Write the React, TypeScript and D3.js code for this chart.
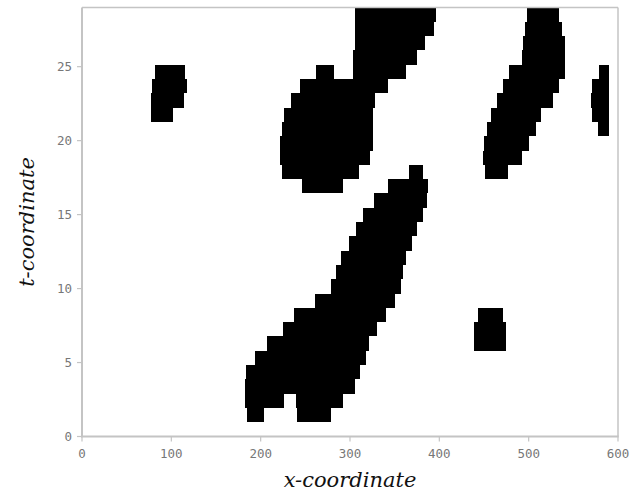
import React from "react";
import * as d3 from "d3";

// Domain of the image
const X_DOMAIN: [number, number] = [0, 600];
const T_DOMAIN: [number, number] = [0, 29];
const N_ROWS = 30; // rows of the t-grid, row 0 at the bottom

const X_TICKS = [0, 100, 200, 300, 400, 500, 600];
const T_TICKS = [0, 5, 10, 15, 20, 25];

// Black intervals [x0, x1] per row (row index 0 = bottom row)
const ROWS: number[][][] = [
  [],
  [[185, 203.4], [241, 278.4]],
  [[182.1, 226.5], [239.9, 292.5]],
  [[182.1, 305.6]],
  [[183.6, 311.2]],
  [[193.3, 317.6]],
  [[206.7, 321.6], [439.1, 474.6]],
  [[224.7, 329.9], [439.1, 474.6]],
  [[237.6, 340.3], [443.6, 470.9]],
  [[261.2, 350.4]],
  [[278.7, 356.8]],
  [[284.0, 359.7]],
  [[289.9, 362.7]],
  [[298.9, 369.1]],
  [[306.4, 375.3]],
  [[314.9, 382.1]],
  [[326.9, 386.5]],
  [[245.9, 292.5], [342.9, 387.6]],
  [[223.5, 310.4], [366.4, 382.1], [451.1, 477.2]],
  [[221.6, 322.4], [449.2, 492.2]],
  [[221.6, 325.4], [450.3, 500.7]],
  [[223.5, 325.4], [453.0, 508.2], [577.3, 590.3]],
  [[76.9, 101.5], [226.1, 325.4], [457.8, 513.5], [570.5, 590.3]],
  [[76.9, 114.2], [233.6, 328.3], [464.9, 527.6], [569.4, 590.3]],
  [[78.0, 117.2], [244.0, 342.2], [470.9, 534.3], [571.2, 590.3]],
  [[81.7, 115.3], [261.6, 282.4], [303.0, 362.7], [478.0, 540.7], [578.7, 590.3]],
  [[303.0, 375.3], [492.2, 540.7]],
  [[305.6, 384.0], [494.0, 540.7]],
  [[305.6, 394.4], [495.9, 537.0]],
  [[305.6, 396.3], [497.8, 534.0]],
];

const X_LABEL = "x-coordinate";
const T_LABEL = "t-coordinate";

export default function App() {
  const W = 633;
  const H = 495;
  const left = 82;
  const right = 618;
  const top = 7.5;
  const bottom = 436.5;

  const x = d3.scaleLinear().domain(X_DOMAIN).range([left, right]);
  const y = d3.scaleLinear().domain(T_DOMAIN).range([bottom, top]);
  const dt = (T_DOMAIN[1] - T_DOMAIN[0]) / N_ROWS;

  const axisColor = "#c4c4c4";
  const tickText = "#777777";

  const cells: React.ReactNode[] = [];
  ROWS.forEach((row, j) => {
    const t0 = T_DOMAIN[0] + j * dt;
    const t1 = t0 + dt;
    row.forEach(([a, b], i) => {
      cells.push(
        <rect
          key={`${j}-${i}`}
          x={x(a)}
          y={y(t1)}
          width={x(b) - x(a)}
          height={y(t0) - y(t1)}
          fill="#000"
          shapeRendering="crispEdges"
        />
      );
    });
  });

  return (
    <svg
      width={W}
      height={H}
      style={{ position: "absolute", left: 0, top: 0, background: "#fff" }}
    >
      <rect x={0} y={0} width={W} height={H} fill="#fff" />
      {cells}
      {/* frame */}
      <line x1={left} x2={right} y1={top} y2={top} stroke={axisColor} strokeWidth={1.5} />
      <line x1={right} x2={right} y1={top} y2={bottom} stroke={axisColor} strokeWidth={1.5} />
      <line x1={left} x2={left} y1={top} y2={bottom + 0.75} stroke={axisColor} strokeWidth={2} />
      <line x1={left - 1} x2={right + 0.75} y1={bottom} y2={bottom} stroke={axisColor} strokeWidth={2} />
      {/* x ticks */}
      {X_TICKS.map((v) => (
        <g key={`xt${v}`}>
          <line x1={x(v)} x2={x(v)} y1={bottom} y2={bottom + 5} stroke={axisColor} strokeWidth={1.2} />
          <text
            x={x(v)}
            y={bottom + 21}
            textAnchor="middle"
            fontFamily="'DejaVu Sans Mono', monospace"
            fontSize={12.5}
            fill={tickText}
          >
            {v}
          </text>
        </g>
      ))}
      {/* t ticks */}
      {T_TICKS.map((v) => (
        <g key={`yt${v}`}>
          <line x1={left - 5} x2={left} y1={y(v)} y2={y(v)} stroke={axisColor} strokeWidth={1.2} />
          <text
            x={left - 10}
            y={y(v) + 4.5}
            textAnchor="end"
            fontFamily="'DejaVu Sans Mono', monospace"
            fontSize={12.5}
            fill={tickText}
          >
            {v}
          </text>
        </g>
      ))}
      <text
        x={(left + right) / 2}
        y={487}
        textAnchor="middle"
        fontFamily="'DejaVu Serif', serif"
        fontStyle="italic"
        fontSize={21}
        fill="#111"
      >
        {X_LABEL}
      </text>
      <text
        transform={`translate(34, ${(top + bottom) / 2}) rotate(-90)`}
        textAnchor="middle"
        fontFamily="'DejaVu Serif', serif"
        fontStyle="italic"
        fontSize={21}
        fill="#111"
      >
        {T_LABEL}
      </text>
    </svg>
  );
}
